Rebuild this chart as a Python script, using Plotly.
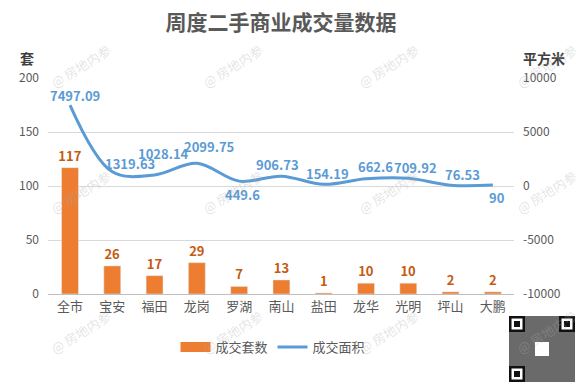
import plotly.graph_objects as go

categories = ["全市", "宝安", "福田", "龙岗", "罗湖", "南山", "盐田", "龙华", "光明", "坪山", "大鹏"]
units = [117, 26, 17, 29, 7, 13, 1, 10, 10, 2, 2]
area = [7497.09, 1319.63, 1028.14, 2099.75, 449.6, 906.73, 154.19, 662.6, 709.92, 76.53, 90]
area_labels = ["7497.09", "1319.63", "1028.14", "2099.75", "449.6", "906.73", "154.19", "662.6", "709.92", "76.53", "90"]
left_ticks = [0, 50, 100, 150, 200]
right_ticks = [-10000, -5000, 0, 5000, 10000]
right_tick_labels = ["-10000", "-5000", "0", "5000", "10000"]

FONT = "Noto Sans CJK SC"
BLUE = "#5B9BD5"
ORANGE = "#ED7D31"
DARK_ORANGE = "#C55A11"
GRAY = "#595959"

# label offsets (pixels) relative to each line point: (dx, dy up)
label_shift = [(5, 10), (18, 8), (9, 21), (12, 17), (3, -13), (-4, 12), (4, 11), (9, 12), (7, 11), (12, 11), (4, -12)]

W, H = 578, 383
ml, mr, mt, mb = 48, 64, 78, 89
pw, ph = W - ml - mr, H - mt - mb


def px(x):
    return (x - ml) / pw


def py(y):
    return ((H - y) - mb) / ph


fig = go.Figure()
fig.add_trace(go.Bar(
    x=categories, y=units, name="成交套数", marker_color=ORANGE, showlegend=False,
    text=[str(v) for v in units], textposition="outside", constraintext="none",
    textfont=dict(color=DARK_ORANGE, size=13, family=FONT, weight="bold"),
    cliponaxis=False, yaxis="y",
))
# legend entry for bars (wide swatch)
fig.add_trace(go.Scatter(
    x=[None], y=[None], name="成交套数", mode="lines",
    line=dict(color=ORANGE, width=10), yaxis="y",
))
fig.add_trace(go.Scatter(
    x=categories, y=area, name="成交面积", mode="lines",
    line=dict(color=BLUE, width=3, shape="spline", smoothing=1),
    cliponaxis=False, yaxis="y2",
))

annotations = [
    dict(text="套", x=px(27), y=py(58), xref="paper", yref="paper", showarrow=False,
         xanchor="center", yanchor="middle",
         font=dict(size=14, color="#404040", family=FONT, weight="bold")),
    dict(text="平方米", x=px(544), y=py(58), xref="paper", yref="paper", showarrow=False,
         xanchor="center", yanchor="middle",
         font=dict(size=14, color="#404040", family=FONT, weight="bold")),
]

for cat, val, lab, (dx, dy) in zip(categories, area, area_labels, label_shift):
    annotations.append(dict(
        text=lab, x=cat, y=val, xref="x", yref="y2", showarrow=False,
        xshift=dx, yshift=dy, xanchor="center", yanchor="middle",
        font=dict(color=BLUE, size=13, family=FONT, weight="bold"),
    ))

wm_cols = [80, 232, 388, 546]
wm_rows = [66, 192, 332]
for r in wm_rows:
    for c in wm_cols:
        annotations.append(dict(
            text="@ 房地内参", x=px(c), y=py(r),
            xref="paper", yref="paper", showarrow=False, textangle=-32,
            xanchor="center", yanchor="middle",
            font=dict(size=13, color="rgba(170,170,170,0.33)", family=FONT),
        ))

shapes = []
# QR code placeholder (decorative)
qx0, qy0, qs = 509, 316, 66
shapes.append(dict(type="rect", xref="paper", yref="paper", x0=px(qx0), x1=px(qx0 + qs),
                   y0=py(qy0 + qs), y1=py(qy0), fillcolor="#6a6a6a", line=dict(width=0), layer="above"))
for (fx, fy) in [(qx0, qy0), (qx0 + qs - 16, qy0), (qx0, qy0 + qs - 16)]:
    shapes.append(dict(type="rect", xref="paper", yref="paper", x0=px(fx), x1=px(fx + 16),
                       y0=py(fy + 16), y1=py(fy), fillcolor="#111", line=dict(width=0), layer="above"))
    shapes.append(dict(type="rect", xref="paper", yref="paper", x0=px(fx + 2.5), x1=px(fx + 13.5),
                       y0=py(fy + 13.5), y1=py(fy + 2.5), fillcolor="#fff", line=dict(width=0), layer="above"))
    shapes.append(dict(type="rect", xref="paper", yref="paper", x0=px(fx + 5), x1=px(fx + 11),
                       y0=py(fy + 11), y1=py(fy + 5), fillcolor="#111", line=dict(width=0), layer="above"))
shapes.append(dict(type="rect", xref="paper", yref="paper", x0=px(qx0 + 26), x1=px(qx0 + 40),
                   y0=py(qy0 + 40), y1=py(qy0 + 26), fillcolor="#fff", line=dict(width=0), layer="above"))

fig.update_layout(
    width=W, height=H,
    margin=dict(l=ml, r=mr, t=mt, b=mb, pad=0),
    plot_bgcolor="white", paper_bgcolor="white",
    font=dict(family=FONT, color=GRAY, size=12),
    title=dict(text="周度二手商业成交量数据", x=0.5, xref="paper", xanchor="center", y=1 - 23 / H, yanchor="middle",
               font=dict(size=21, color=GRAY, family=FONT, weight="bold")),
    bargap=0.6,
    showlegend=True,
    legend=dict(orientation="h", x=px(273), xanchor="center", y=py(347), yanchor="middle",
                font=dict(size=13, color=GRAY, family=FONT), bgcolor="rgba(0,0,0,0)"),
    xaxis=dict(tickfont=dict(size=13, color=GRAY), showline=True, linecolor="#BFBFBF", linewidth=1,
               ticks="", showgrid=False),
    yaxis=dict(range=[0, 200], tickvals=left_ticks, showgrid=True, gridcolor="#D9D9D9", gridwidth=1,
               zeroline=False, tickfont=dict(size=12, color=GRAY), ticklabelstandoff=8),
    yaxis2=dict(range=[-10000, 10000], tickvals=right_ticks, ticktext=right_tick_labels,
                overlaying="y", side="right", showgrid=False,
                zeroline=False, tickfont=dict(size=12, color=GRAY), ticklabelstandoff=8),
    annotations=annotations,
    shapes=shapes,
)

fig.write_html("out.html", config={"displayModeBar": False},
               post_script="document.body.style.margin='0';document.body.style.padding='0';")
